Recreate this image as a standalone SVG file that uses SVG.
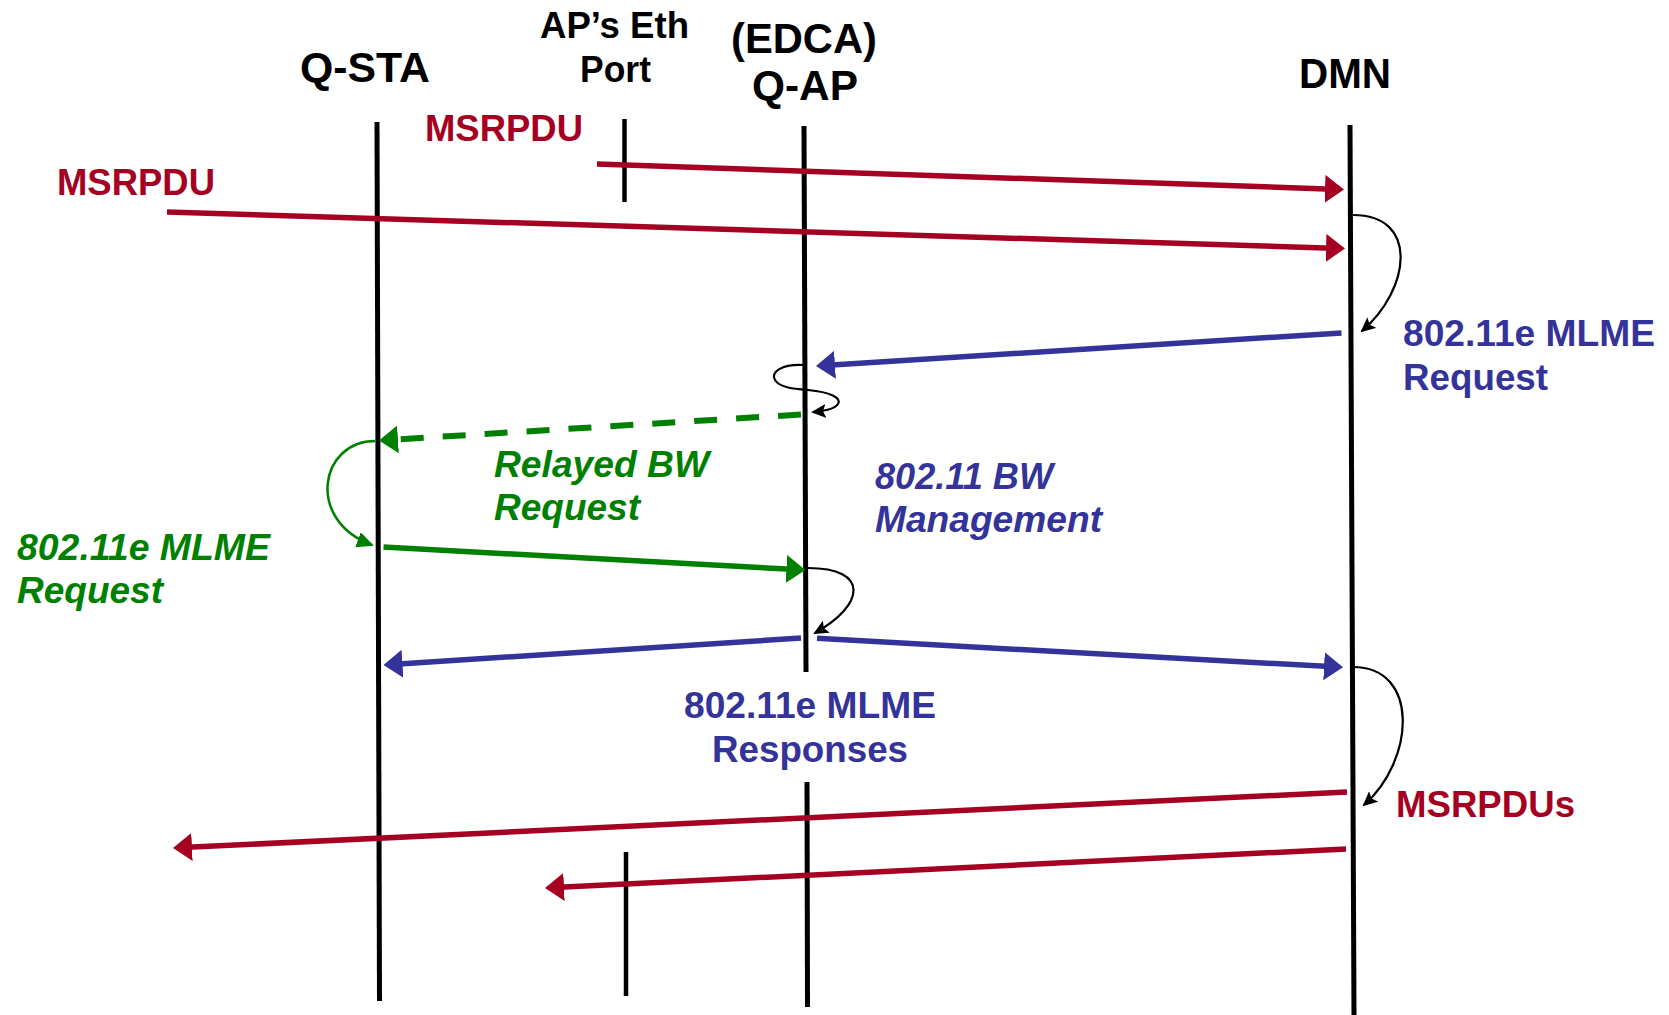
<svg xmlns="http://www.w3.org/2000/svg" width="1669" height="1015" viewBox="0 0 1669 1015">
<style>
text{font-family:"Liberation Sans",Arial,Helvetica,sans-serif;font-weight:bold}
.hdr{font-size:42px;fill:#000}
.hdr2{font-size:36px;fill:#000}
.lbl{font-size:36px}
.it{font-style:italic}
.red{fill:#A50021}.blue{fill:#333399}.green{fill:#008000}
.life{stroke:#000;stroke-width:5;fill:none}
.port{stroke:#000;stroke-width:4.5;fill:none}
.ar{fill:none;stroke-width:5.5}
.r{stroke:#A50021;marker-end:url(#mR)}
.b{stroke:#333399;marker-end:url(#mB)}
.g{stroke:#008000;marker-end:url(#mG)}
.dash{stroke-dasharray:23 19;stroke-width:6}
.curl{fill:none;stroke:#000;stroke-width:2.2;marker-end:url(#mK)}
.gcurl{fill:none;stroke:#008000;stroke-width:2.5;marker-end:url(#mGs)}
</style>
<defs>
<marker id="mR" markerUnits="userSpaceOnUse" markerWidth="19" markerHeight="28" refX="15" refY="14" orient="auto" viewBox="0 0 19 28"><path d="M0,0 L19,14 L0,28 Z" fill="#A50021"/></marker>
<marker id="mB" markerUnits="userSpaceOnUse" markerWidth="19" markerHeight="28" refX="15" refY="14" orient="auto" viewBox="0 0 19 28"><path d="M0,0 L19,14 L0,28 Z" fill="#333399"/></marker>
<marker id="mG" markerUnits="userSpaceOnUse" markerWidth="19" markerHeight="28" refX="15" refY="14" orient="auto" viewBox="0 0 19 28"><path d="M0,0 L19,14 L0,28 Z" fill="#008000"/></marker>
<marker id="mK" markerUnits="userSpaceOnUse" markerWidth="15" markerHeight="14" refX="13" refY="7" orient="auto" viewBox="0 0 15 14"><path d="M0,0 L15,7 L0,14 L3,7 Z" fill="#000"/></marker>
<marker id="mGs" markerUnits="userSpaceOnUse" markerWidth="17" markerHeight="16" refX="15" refY="8" orient="auto" viewBox="0 0 17 16"><path d="M0,0 L17,8 L0,16 Z" fill="#008000"/></marker>
</defs>
<rect width="1669" height="1015" fill="#fff"/>

<g id="q-sta">
<text class="hdr" x="300" y="82" textLength="130" lengthAdjust="spacingAndGlyphs">Q-STA</text>
<line class="life" x1="377" y1="122" x2="379.5" y2="1001"/>
</g>

<g id="ap-eth-port">
<text class="hdr2" x="540" y="38" textLength="149" lengthAdjust="spacingAndGlyphs">AP’s Eth</text>
<text class="hdr2" x="580" y="82" textLength="71" lengthAdjust="spacingAndGlyphs">Port</text>
<line class="port" x1="624.5" y1="119" x2="624.5" y2="202"/>
<line class="port" x1="626" y1="852" x2="626" y2="996"/>
</g>

<g id="q-ap">
<text class="hdr" x="731" y="53" textLength="146" lengthAdjust="spacingAndGlyphs">(EDCA)</text>
<text class="hdr" x="752" y="100" textLength="106" lengthAdjust="spacingAndGlyphs">Q-AP</text>
<line class="life" x1="804" y1="126" x2="806" y2="672"/>
<line class="life" x1="807" y1="782" x2="807.5" y2="1007"/>
</g>

<g id="dmn">
<text class="hdr" x="1299" y="88" textLength="92" lengthAdjust="spacingAndGlyphs">DMN</text>
<line class="life" x1="1350" y1="125" x2="1354" y2="1015"/>
</g>

<g id="connectors">
<path class="ar r" d="M597,164 L1340,189.4"/>
<path class="ar r" d="M167,212 L1341,248.4"/>
<path class="curl" d="M1353,215 C1420,215 1410,290 1362,331"/>
<path class="ar b" d="M1341.5,333 L820,365.7"/>
<path class="curl" d="M803,365 C782,364 770,372 775,380 C780,388 795,389 808,390 C830,392 842,398 838,404 C835,409 825,411 813,412"/>
<path class="ar g dash" d="M801,414.5 L383,440.3"/>
<path class="gcurl" d="M375,441 C320,441 305,520 372,545"/>
<path class="ar g" d="M383.5,547 L801.4,569.8"/>
<path class="curl" d="M808,568 C870,568 865,605 815,633"/>
<path class="ar b" d="M801,638 L387.5,664.7"/>
<path class="ar b" d="M817,638.3 L1339,667.1"/>
<path class="curl" d="M1353,667 C1420,667 1415,760 1364,805"/>
<path class="ar r" d="M1347,792 L177,847.8"/>
<path class="ar r" d="M1346,849 L549,887.8"/>
</g>

<g id="labels">
<text class="lbl red" x="425" y="141" textLength="158" lengthAdjust="spacingAndGlyphs">MSRPDU</text>
<text class="lbl red" x="57" y="195" textLength="158" lengthAdjust="spacingAndGlyphs">MSRPDU</text>
<text class="lbl blue" x="1403" y="346" textLength="252" lengthAdjust="spacingAndGlyphs">802.11e MLME</text>
<text class="lbl blue" x="1403" y="390" textLength="145" lengthAdjust="spacingAndGlyphs">Request</text>
<text class="lbl green it" x="494" y="477" textLength="215" lengthAdjust="spacingAndGlyphs">Relayed BW</text>
<text class="lbl green it" x="494" y="520" textLength="146" lengthAdjust="spacingAndGlyphs">Request</text>
<text class="lbl blue it" x="875" y="489" textLength="178" lengthAdjust="spacingAndGlyphs">802.11 BW</text>
<text class="lbl blue it" x="875" y="532" textLength="227" lengthAdjust="spacingAndGlyphs">Management</text>
<text class="lbl green it" x="17" y="560" textLength="253" lengthAdjust="spacingAndGlyphs">802.11e MLME</text>
<text class="lbl green it" x="17" y="603" textLength="146" lengthAdjust="spacingAndGlyphs">Request</text>
<text class="lbl blue" x="684" y="718" textLength="252" lengthAdjust="spacingAndGlyphs">802.11e MLME</text>
<text class="lbl blue" x="712" y="762" textLength="196" lengthAdjust="spacingAndGlyphs">Responses</text>
<text class="lbl red" x="1396" y="817" textLength="179" lengthAdjust="spacingAndGlyphs">MSRPDUs</text>
</g>
</svg>
